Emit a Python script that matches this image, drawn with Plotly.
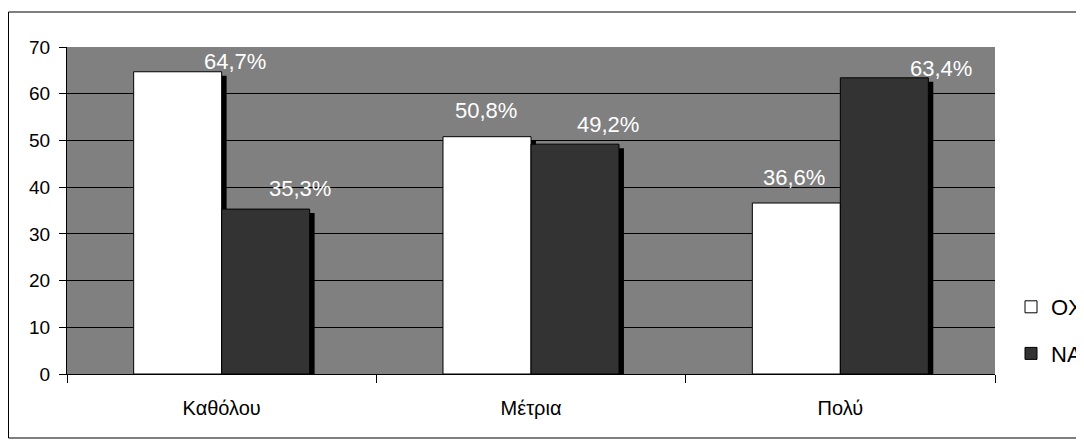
import plotly.graph_objects as go

# data
categories = ['Καθόλου', 'Μέτρια', 'Πολύ']
series_names = ['ΟΧΙ', 'ΝΑΙ']
oxi = [64.7, 50.8, 36.6]
nai = [35.3, 49.2, 63.4]
oxi_labels = ['64,7%', '50,8%', '36,6%']
nai_labels = ['35,3%', '49,2%', '63,4%']

# styling
font = 'Liberation Sans, Arial, sans-serif'
bar_w = 0.2845
shadow_dx = 0.016     # shadow shift to the right (category units)
shadow_dy = -0.86     # shadow shift down (value units)

# hand-placed label offsets (px) as in the original chart: (xshift, yshift)
oxi_off = [(13, 10), (-45, 26), (-46, 26)]
nai_off = [(78, 21), (77, 20), (101, 9)]

# page has an 8px body margin, so the figure is 8px smaller and shifted
W, H = 1076, 433
L, T, R, B = 59, 39, 89, 67
pw, ph = W - L - R, H - T - B

fig = go.Figure()

# drop shadows first so the bars cover them
for vals, off in [(oxi, -bar_w), (nai, 0.0)]:
    fig.add_trace(go.Bar(x=categories, y=vals, base=shadow_dy, width=bar_w,
                         offset=off + shadow_dx, marker_color='black',
                         marker_line_width=0, showlegend=False, hoverinfo='skip'))

fig.add_trace(go.Bar(x=categories, y=oxi, name=series_names[0], width=bar_w,
                     offset=-bar_w, marker_color='white', legendgroup='a',
                     marker_line=dict(color='black', width=1)))
fig.add_trace(go.Bar(x=categories, y=nai, name=series_names[1], width=bar_w,
                     offset=0.0, marker_color='#333333', legendgroup='b',
                     marker_line=dict(color='black', width=1)))

# data labels
for vals, labs, offs in [(oxi, oxi_labels, oxi_off), (nai, nai_labels, nai_off)]:
    for c, v, t, (dx, dy) in zip(categories, vals, labs, offs):
        fig.add_annotation(x=c, y=v, text=t, showarrow=False,
                           xshift=dx, yshift=dy, yanchor='middle',
                           font=dict(family=font, size=22, color='white'))

fig.update_yaxes(range=[0, 70], dtick=10, showgrid=True, gridcolor='black',
                 gridwidth=1, showline=True, linecolor='black', linewidth=1,
                 ticks='outside', ticklen=7, tickcolor='black', zeroline=False,
                 ticklabelstandoff=5,
                 tickfont=dict(family=font, size=19, color='black'))
fig.update_xaxes(range=[-0.5, 2.5], showline=True, linecolor='black', linewidth=1,
                 ticks='outside', tickson='boundaries', ticklen=8, tickcolor='black',
                 ticklabelstandoff=16,
                 tickfont=dict(family=font, size=20, color='black'))

# outer frame
fig.add_shape(type='rect', xref='paper', yref='paper',
              x0=(0.5 - L) / pw, x1=(1100 - L) / pw,
              y0=(H - B - 430) / ph, y1=(H - B - 4) / ph,
              line=dict(color='black', width=1), layer='below')

fig.update_layout(width=W, height=H, barmode='overlay',
                  plot_bgcolor='#808080', paper_bgcolor='white',
                  margin=dict(l=L, r=R, t=T, b=B, autoexpand=False),
                  legend=dict(x=(1003 - L) / pw, y=(H - B - 278) / ph,
                              xanchor='left', yanchor='top', tracegroupgap=15,
                              font=dict(family=font, size=22, color='black'),
                              bgcolor='rgba(0,0,0,0)'),
                  font=dict(family=font))

fig.write_html('out.html')
